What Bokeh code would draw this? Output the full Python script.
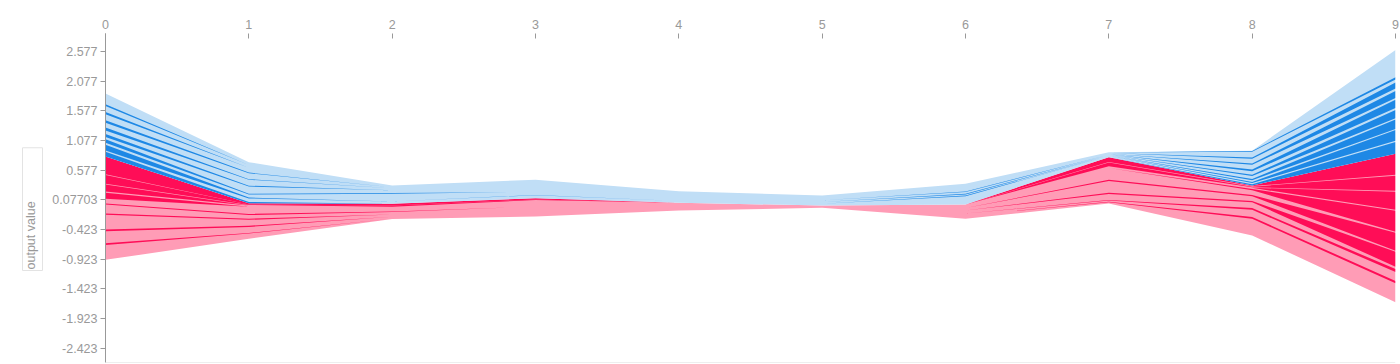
import numpy as np
from bokeh.plotting import figure
from bokeh.models import FixedTicker, Range1d, Span, Title
from bokeh.embed import file_html
from bokeh.resources import INLINE

# ---------------- data ----------------
samples = [0, 1, 2, 3, 4, 5, 6, 7, 8, 9]
output_value = [0.806, 0.020, 0.010, 0.104, 0.027, -0.019, -0.002, 0.794, 0.318, 0.851]

# positive (red) feature effects, stacked downward from the output value
pos_shade = ["D", "L", "D", "L", "D", "L", "D", "L", "D", "L", "D", "L", "D", "L", "D", "L"]
pos_effects = [
    [0.30, 0.02, 0.03, 0.02, 0.00, 0.00, 0.00, 0.08, 0.01, 0.35],
    [0.01, 0.00, 0.00, 0.00, 0.00, 0.00, 0.00, 0.01, 0.01, 0.02],
    [0.15, 0.01, 0.02, 0.01, 0.00, 0.00, 0.00, 0.06, 0.01, 0.25],
    [0.01, 0.01, 0.01, 0.01, 0.00, 0.00, 0.00, 0.01, 0.01, 0.02],
    [0.12, 0.00, 0.00, 0.00, 0.00, 0.00, 0.00, 0.00, 0.00, 0.30],
    [0.02, 0.02, 0.02, 0.02, 0.01, 0.01, 0.01, 0.02, 0.02, 0.02],
    [0.10, 0.00, 0.00, 0.00, 0.00, 0.00, 0.00, 0.00, 0.02, 0.35],
    [0.08, 0.12, 0.05, 0.08, 0.03, 0.01, 0.05, 0.20, 0.08, 0.02],
    [0.02, 0.02, 0.01, 0.00, 0.00, 0.00, 0.00, 0.02, 0.02, 0.30],
    [0.15, 0.06, 0.04, 0.05, 0.02, 0.004, 0.04, 0.20, 0.08, 0.02],
    [0.02, 0.02, 0.00, 0.00, 0.00, 0.00, 0.00, 0.02, 0.02, 0.25],
    [0.25, 0.10, 0.04, 0.05, 0.02, 0.004, 0.05, 0.10, 0.10, 0.04],
    [0.03, 0.02, 0.00, 0.00, 0.00, 0.00, 0.00, 0.01, 0.03, 0.05],
    [0.20, 0.10, 0.03, 0.05, 0.02, 0.004, 0.04, 0.02, 0.12, 0.15],
    [0.03, 0.01, 0.00, 0.00, 0.00, 0.00, 0.00, 0.01, 0.03, 0.04],
    [0.25, 0.09, 0.005, 0.02, 0.03, 0.006, 0.05, 0.02, 0.28, 0.32],
]

# negative (blue) feature effects, stacked upward from the output value
neg_shade = ["D", "L", "D", "L", "D", "L", "D", "L", "D", "L", "D", "L", "D", "L", "D", "L"]
neg_effects = [
    [0.08, 0.02, 0.00, 0.00, 0.00, 0.00, 0.00, 0.00, 0.02, 0.20],
    [0.02, 0.06, 0.04, 0.05, 0.03, 0.03, 0.14, 0.02, 0.02, 0.02],
    [0.10, 0.015, 0.00, 0.005, 0.00, 0.00, 0.01, 0.00, 0.02, 0.18],
    [0.03, 0.05, 0.13, 0.05, 0.03, 0.03, 0.02, 0.01, 0.03, 0.02],
    [0.06, 0.015, 0.01, 0.00, 0.00, 0.00, 0.01, 0.00, 0.02, 0.16],
    [0.04, 0.12, 0.05, 0.05, 0.03, 0.03, 0.03, 0.01, 0.05, 0.02],
    [0.05, 0.015, 0.00, 0.00, 0.00, 0.00, 0.01, 0.00, 0.02, 0.14],
    [0.06, 0.10, 0.03, 0.05, 0.03, 0.02, 0.04, 0.01, 0.06, 0.03],
    [0.05, 0.01, 0.00, 0.00, 0.00, 0.00, 0.00, 0.00, 0.03, 0.14],
    [0.08, 0.10, 0.02, 0.04, 0.03, 0.02, 0.04, 0.01, 0.08, 0.03],
    [0.04, 0.01, 0.00, 0.00, 0.00, 0.00, 0.00, 0.00, 0.02, 0.12],
    [0.10, 0.08, 0.02, 0.04, 0.02, 0.02, 0.03, 0.01, 0.08, 0.04],
    [0.04, 0.00, 0.00, 0.00, 0.00, 0.00, 0.00, 0.00, 0.02, 0.10],
    [0.10, 0.05, 0.01, 0.02, 0.02, 0.01, 0.01, 0.01, 0.10, 0.05],
    [0.03, 0.00, 0.00, 0.00, 0.00, 0.00, 0.00, 0.00, 0.01, 0.04],
    [0.18, 0.045, 0.00, 0.005, 0.005, 0.008, 0.008, 0.004, 0.007, 0.46],
]

x_ticks = [0, 1, 2, 3, 4, 5, 6, 7, 8, 9]
y_ticks = [2.577, 2.077, 1.577, 1.077, 0.577, 0.07703, -0.423, -0.923, -1.423, -1.923, -2.423]
y_tick_labels = ["2.577", "2.077", "1.577", "1.077", "0.577", "0.07703",
                 "-0.423", "-0.923", "-1.423", "-1.923", "-2.423"]
y_label = "output value"

# ---------------- styling ----------------
RED_DARK = "#ff0d57"
RED_LIGHT = "#ff9cb6"
BLUE_DARK = "#1e88e5"
BLUE_LIGHT = "#c0def6"
GREY = "#999999"
FONT = "Liberation Sans"

Y0, Y1 = -2.662, 2.877
p = figure(width=1400, height=364, output_backend="svg", toolbar_location=None,
           x_range=Range1d(0, 9), y_range=Range1d(Y0, Y1),
           x_axis_location="above",
           min_border_left=105, min_border_right=5, min_border_top=33, min_border_bottom=2)
p.outline_line_color = None
p.xgrid.visible = False
p.ygrid.visible = False
p.background_fill_color = "white"
p.border_fill_color = "white"

x = np.array(samples, dtype=float)
out = np.array(output_value, dtype=float)

# red stack (downward)
pos = np.array(pos_effects, dtype=float)
red_bottom = out - pos.sum(axis=0)
p.varea(x=x, y1=red_bottom, y2=out, fill_color=RED_LIGHT)
edge = out.copy()
for vals, shade in zip(pos, pos_shade):
    lower = edge - vals
    if shade == "D":
        p.varea(x=x, y1=lower, y2=edge, fill_color=RED_DARK)
    edge = lower

# blue stack (upward)
neg = np.array(neg_effects, dtype=float)
blue_top = out + neg.sum(axis=0)
p.varea(x=x, y1=out, y2=blue_top, fill_color=BLUE_LIGHT)
edge = out.copy()
for vals, shade in zip(neg, neg_shade):
    upper = edge + vals
    if shade == "D":
        p.varea(x=x, y1=edge, y2=upper, fill_color=BLUE_DARK)
    edge = upper

# x axis (top)
xa = p.xaxis[0]
xa.ticker = FixedTicker(ticks=x_ticks)
xa.axis_line_color = None
xa.major_tick_in = 5
xa.major_tick_out = 0
xa.minor_tick_line_color = None
xa.major_tick_line_color = GREY
xa.major_label_text_color = GREY
xa.major_label_text_font = FONT
xa.major_label_text_font_size = "12.5px"
xa.major_label_standoff = 5

# y axis (left)
ya = p.yaxis[0]
ya.ticker = FixedTicker(ticks=y_ticks)
ya.major_label_overrides = {t: s for t, s in zip(y_ticks, y_tick_labels)}
ya.axis_line_color = GREY
ya.major_tick_line_color = GREY
ya.major_tick_out = 5
ya.major_tick_in = 0
ya.minor_tick_line_color = None
ya.major_label_text_color = GREY
ya.major_label_text_font = FONT
ya.major_label_text_font_size = "12.5px"
ya.major_label_standoff = 3

# bottom border line
p.add_layout(Span(location=Y0, dimension="width", line_color="#dddddd", line_width=1))

# rotated y label in a small box (left side panel); the box is lengthened at its top end
ytitle = Title(text=y_label + "\u00a0" * 14, align="left", text_font=FONT,
               text_font_size="12.5px", text_font_style="normal", text_color=GREY,
               border_line_color="#e3e3e3", border_line_width=1,
               background_fill_color="white", padding=(1, 5, 1, 5),
               standoff=14, offset=92)
p.add_layout(ytitle, "left")

open("out.html", "w").write(file_html(p, INLINE))
